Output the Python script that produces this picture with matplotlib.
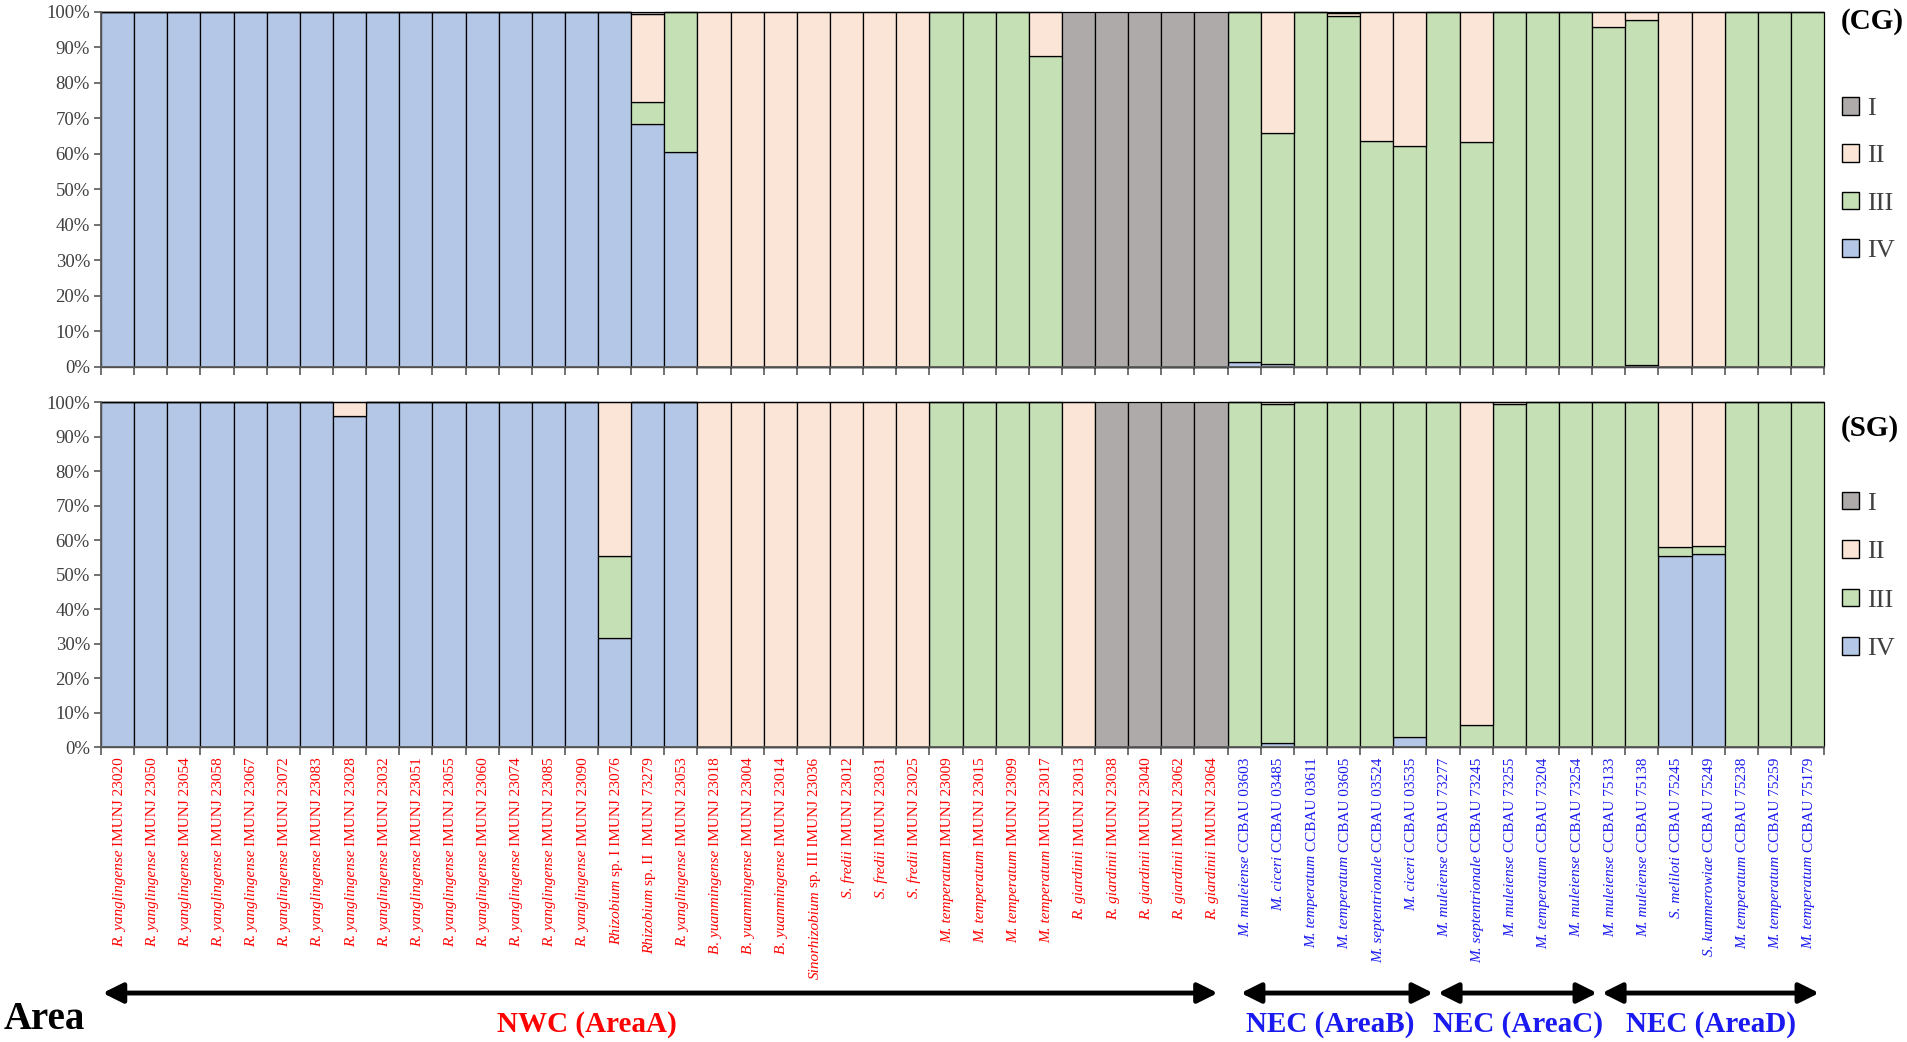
import numpy as np
import matplotlib
matplotlib.use("Agg")
import matplotlib.pyplot as plt
from matplotlib.patches import Patch
from matplotlib.transforms import blended_transform_factory
from matplotlib.font_manager import FontProperties

plt.rcParams['font.family'] = ['Liberation Serif', 'DejaVu Serif']

# ---------------- data ----------------
species = (["R. yanglingense"] * 15 + ["Rhizobium", "Rhizobium", "R. yanglingense"]
           + ["B. yuanmingense"] * 3 + ["Sinorhizobium"] + ["S. fredii"] * 3
           + ["M. temperatum"] * 4 + ["R. giardinii"] * 5
           + ["M. muleiense", "M. ciceri", "M. temperatum", "M. temperatum", "M. septentrionale", "M. ciceri"]
           + ["M. muleiense", "M. septentrionale", "M. muleiense", "M. temperatum", "M. muleiense"]
           + ["M. muleiense", "M. muleiense", "S. meliloti", "S. kummerowiae",
              "M. temperatum", "M. temperatum", "M. temperatum"])
strains = ["IMUNJ 23020", "IMUNJ 23050", "IMUNJ 23054", "IMUNJ 23058", "IMUNJ 23067", "IMUNJ 23072",
           "IMUNJ 23083", "IMUNJ 23028", "IMUNJ 23032", "IMUNJ 23051", "IMUNJ 23055", "IMUNJ 23060",
           "IMUNJ 23074", "IMUNJ 23085", "IMUNJ 23090", "sp. I IMUNJ 23076", "sp. II  IMUNJ 73279",
           "IMUNJ 23053", "IMUNJ 23018", "IMUNJ 23004", "IMUNJ 23014", "sp. III IMUNJ 23036",
           "IMUNJ 23012", "IMUNJ 23031", "IMUNJ 23025", "IMUNJ 23009", "IMUNJ 23015", "IMUNJ 23099",
           "IMUNJ 23017", "IMUNJ 23013", "IMUNJ 23038", "IMUNJ 23040", "IMUNJ 23062", "IMUNJ 23064",
           "CCBAU 03603", "CCBAU 03485", "CCBAU 03611", "CCBAU 03605", "CCBAU 03524", "CCBAU 03535",
           "CCBAU 73277", "CCBAU 73245", "CCBAU 73255", "CCBAU 73204", "CCBAU 73254",
           "CCBAU 75133", "CCBAU 75138", "CCBAU 75245", "CCBAU 75249", "CCBAU 75238", "CCBAU 75259",
           "CCBAU 75179"]
regions = ["NWC"] * 34 + ["NEC"] * 18

# CG panel (% of each type)
IV_CG = [100, 100, 100, 100, 100, 100, 100, 100, 100, 100, 100, 100, 100, 100, 100, 100, 68.5, 60.7,
         0, 0, 0, 0, 0, 0, 0,
         0, 0, 0, 0,
         0, 0, 0, 0, 0,
         1.5, 0.9, 0, 0, 0, 0,
         0, 0, 0, 0, 0,
         0, 0.5, 0, 0, 0, 0, 0]
III_CG = [0, 0, 0, 0, 0, 0, 0, 0, 0, 0, 0, 0, 0, 0, 0, 0, 6.1, 39.3,
          0, 0, 0, 0, 0, 0, 0,
          100, 100, 100, 87.6,
          0, 0, 0, 0, 0,
          98.5, 64.9, 100, 99.0, 63.7, 62.2,
          100, 63.5, 100, 100, 100,
          95.8, 97.3, 0, 0, 100, 100, 100]
II_CG = [0, 0, 0, 0, 0, 0, 0, 0, 0, 0, 0, 0, 0, 0, 0, 0, 24.7, 0,
         100, 100, 100, 100, 100, 100, 100,
         0, 0, 0, 12.4,
         0, 0, 0, 0, 0,
         0, 34.2, 0, 0.6, 36.3, 37.8,
         0, 36.5, 0, 0, 0,
         4.2, 2.2, 100, 100, 0, 0, 0]
I_CG = [0, 0, 0, 0, 0, 0, 0, 0, 0, 0, 0, 0, 0, 0, 0, 0, 0.7, 0,
        0, 0, 0, 0, 0, 0, 0,
        0, 0, 0, 0,
        100, 100, 100, 100, 100,
        0, 0, 0, 0.4, 0, 0,
        0, 0, 0, 0, 0,
        0, 0, 0, 0, 0, 0, 0]

# SG panel
IV_SG = [100, 100, 100, 100, 100, 100, 100, 95.8, 100, 100, 100, 100, 100, 100, 100, 31.7, 100, 100,
         0, 0, 0, 0, 0, 0, 0,
         0, 0, 0, 0,
         0, 0, 0, 0, 0,
         0, 1.3, 0, 0, 0, 2.9,
         0, 0, 0, 0, 0,
         0, 0, 55.3, 55.8, 0, 0, 0]
III_SG = [0, 0, 0, 0, 0, 0, 0, 0, 0, 0, 0, 0, 0, 0, 0, 23.6, 0, 0,
          0, 0, 0, 0, 0, 0, 0,
          100, 100, 100, 100,
          0, 0, 0, 0, 0,
          100, 98.0, 100, 100, 100, 97.1,
          100, 6.4, 99.3, 100, 100,
          100, 100, 2.6, 2.6, 100, 100, 100]
II_SG = [0, 0, 0, 0, 0, 0, 0, 4.2, 0, 0, 0, 0, 0, 0, 0, 44.7, 0, 0,
         100, 100, 100, 100, 100, 100, 100,
         0, 0, 0, 0,
         100, 0, 0, 0, 0,
         0, 0.7, 0, 0, 0, 0,
         0, 93.6, 0.7, 0, 0,
         0, 0, 42.1, 41.6, 0, 0, 0]
I_SG = [0, 0, 0, 0, 0, 0, 0, 0, 0, 0, 0, 0, 0, 0, 0, 0, 0, 0,
        0, 0, 0, 0, 0, 0, 0,
        0, 0, 0, 0,
        0, 100, 100, 100, 100,
        0, 0, 0, 0, 0, 0,
        0, 0, 0, 0, 0,
        0, 0, 0, 0, 0, 0, 0]

type_names = ["I", "II", "III", "IV"]
area_names = ["NWC (AreaA)", "NEC (AreaB)", "NEC (AreaC)", "NEC (AreaD)"]

# ---------------- style ----------------
col = {"I": "#AEAAAA", "II": "#FBE5D6", "III": "#C5E0B4", "IV": "#B4C7E7"}
region_col = {"NWC": "#FF0000", "NEC": "#1A1AF0"}
axis_col = "#595959"
text_col = "#404040"
DPI = 100

fig = plt.figure(figsize=(19.07, 10.42), dpi=DPI)
ax1 = fig.add_axes([0.053, 0.6478, 0.9035, 0.3407])
ax2 = fig.add_axes([0.053, 0.2831, 0.9035, 0.3311])

x = np.arange(len(strains))


def draw(ax, series):
    bottom = np.zeros(len(x))
    for name in ["IV", "III", "II", "I"]:
        vals = np.array(series[name], dtype=float)
        ax.bar(x, vals, bottom=bottom, width=1.0, color=col[name],
               edgecolor="black", linewidth=0.9, clip_on=False, zorder=2)
        bottom += vals
    ax.set_xlim(-0.5, len(x) - 0.5)
    ax.set_ylim(0, 100)
    ax.spines['top'].set_visible(False)
    ax.spines['right'].set_visible(False)
    for s in ['left', 'bottom']:
        ax.spines[s].set_color(axis_col)
        ax.spines[s].set_linewidth(1.3)
        ax.spines[s].set_zorder(3)
    ax.set_yticks(np.arange(0, 101, 10))
    ax.set_yticklabels([f"{v}%" for v in range(0, 101, 10)], fontsize=13.5, color=text_col)
    ax.tick_params(axis='y', direction='out', length=5, width=1.2, color=axis_col, pad=3)
    ax.set_xticks(np.arange(-0.5, len(x), 1.0))
    ax.set_xticklabels([])
    ax.tick_params(axis='x', which='major', direction='out', length=6, width=1.2, color=axis_col)
    return [Patch(facecolor=col[n], edgecolor="black", linewidth=1.0) for n in type_names]


h = draw(ax1, {"I": I_CG, "II": II_CG, "III": III_CG, "IV": IV_CG})
draw(ax2, {"I": I_SG, "II": II_SG, "III": III_SG, "IV": IV_SG})

# x labels under the lower panel: italic species + roman strain, rotated
fig.canvas.draw()
renderer = fig.canvas.get_renderer()
fs = 11
fp = FontProperties(family='Liberation Serif', size=fs)
pad_pt = 7.5
dx_pt = 0.33 * fs
space_pt = 0.25 * fs
for i, (sp, st, reg) in enumerate(zip(species, strains, regions)):
    c = region_col[reg]
    w_px, _, _ = renderer.get_text_width_height_descent(st, fp, ismath=False)
    w_pt = w_px * 72.0 / DPI
    ax2.annotate(st, xy=(i, 0), xycoords=('data', 'axes fraction'),
                 xytext=(dx_pt, -pad_pt), textcoords='offset points',
                 rotation=90, rotation_mode='anchor', ha='right', va='baseline',
                 fontsize=fs, color=c, annotation_clip=False)
    ax2.annotate(sp, xy=(i, 0), xycoords=('data', 'axes fraction'),
                 xytext=(dx_pt, -pad_pt - w_pt - space_pt), textcoords='offset points',
                 rotation=90, rotation_mode='anchor', ha='right', va='baseline',
                 fontsize=fs, style='italic', color=c, annotation_clip=False)

# panel tags and legends
fig.text(0.9655, 0.979, "(CG)", fontsize=21, weight='bold', ha='left', va='center')
fig.text(0.9655, 0.589, "(SG)", fontsize=21, weight='bold', ha='left', va='center')
for ax, ytop, sp_ in [(ax1, 0.907, 0.92), (ax2, 0.528, 0.96)]:
    leg = ax.legend(h, type_names, loc='upper left', bbox_to_anchor=(0.966, ytop),
                    bbox_transform=fig.transFigure, frameon=False, fontsize=19,
                    handlelength=0.65, handleheight=0.65, handletextpad=0.3,
                    labelspacing=sp_, borderpad=0, borderaxespad=0)
    for t in leg.get_texts():
        t.set_color(text_col)

# area arrows and names
tr = blended_transform_factory(ax2.transData, fig.transFigure)
arrow_spans = [(-0.45, 33.2), (33.9, 39.7), (39.85, 44.65), (44.8, 51.35)]
name_pos = [14.15, 36.6, 42.25, 48.1]
name_cols = ["#FF0000", "#1A1AF0", "#1A1AF0", "#1A1AF0"]
for (a, b), nm, px, c in zip(arrow_spans, area_names, name_pos, name_cols):
    ax2.annotate("", xy=(b, 0.047), xytext=(a, 0.047), xycoords=tr, textcoords=tr,
                 arrowprops=dict(arrowstyle='<|-|>', lw=3.5, color='black',
                                 mutation_scale=30, shrinkA=0, shrinkB=0),
                 annotation_clip=False)
    ax2.text(px, 0.017, nm, transform=tr, fontsize=21, weight='bold', color=c,
             ha='center', va='center')
fig.text(0.002, 0.022, "Area", fontsize=28, weight='bold', ha='left', va='center')

fig.savefig("out.png", dpi=DPI)
